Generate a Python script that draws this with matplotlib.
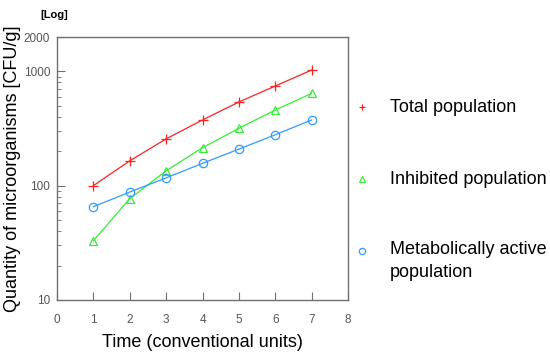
import matplotlib
matplotlib.use("Agg")
import matplotlib.pyplot as plt
from matplotlib.lines import Line2D
from matplotlib.ticker import FixedLocator, NullFormatter, LogLocator

plt.rcParams['font.family'] = ['Liberation Sans', 'DejaVu Sans']

time = [1, 2, 3, 4, 5, 6, 7]
total = [100, 165, 257, 376, 540, 745, 1028]
inhibited = [33, 77, 135, 215, 318, 459, 643]
active = [65.5, 88, 117, 157, 209, 279, 376]

labels = ["Total population", "Inhibited population", "Metabolically active\npopulation"]
colors = ["#ff2020", "#33ee33", "#3399ff"]
markers = ["+", "^", "o"]
series = [total, inhibited, active]

y_ticks = [10, 100, 1000, 2000]
y_ticklabels = ["10", "100", "1000", "2000"]
x_ticks = [0, 1, 2, 3, 4, 5, 6, 7, 8]

fig = plt.figure(figsize=(5.5, 3.55), dpi=100)
ax = fig.add_axes([57/550, 1-300/355, (348-57)/550, (300-37)/355])

for vals, c, m in zip(series, colors, markers):
    ax.plot(time, vals, color=c, lw=0.9, marker=m, ms=6.5 if m == "+" else 6,
            mfc="none", mec=c, mew=0.9)

ax.set_yscale("log")
ax.set_ylim(10, 2000)
ax.set_xlim(0, 8)
ax.yaxis.set_major_locator(FixedLocator(y_ticks))
ax.set_yticklabels(y_ticklabels)
ax.yaxis.set_minor_locator(LogLocator(base=10, subs=range(2, 10)))
ax.yaxis.set_minor_formatter(NullFormatter())
ax.set_xticks(x_ticks)

for s in ax.spines.values():
    s.set_color("#707070")
    s.set_linewidth(1.0)
ax.tick_params(axis="both", which="both", direction="in", colors="#707070",
               labelcolor="#555555", labelsize=8.5, top=False, right=False)
ax.tick_params(axis="both", which="major", length=6)
ax.tick_params(axis="y", which="major", pad=5)
ax.tick_params(axis="x", which="major", pad=10)
ax.tick_params(axis="y", which="minor", length=3)

ax.set_xlabel("Time (conventional units)", fontsize=13, labelpad=6)
ax.set_ylabel("Quantity of microorganisms [CFU/g]", fontsize=13, labelpad=2)
fig.text(40/550, 1-15/355, "[Log]", fontsize=8, fontweight="bold", va="center", ha="left")

leg_y = [107, 179, 251]
for lab, c, m, yy in zip(labels, colors, markers, leg_y):
    fig.add_artist(Line2D([362/550], [1-yy/355], transform=fig.transFigure,
                          marker=m, color=c, mfc="none", mec=c, ms=5 if m == "+" else 4.5,
                          mew=0.9, ls="none"))
    if "\n" in lab:
        fig.text(390/550, 1-(yy-10)/355, lab, fontsize=13, va="top", ha="left",
                 linespacing=1.45)
    else:
        fig.text(390/550, 1-yy/355, lab, fontsize=13, va="center", ha="left")

fig.savefig("out.png", dpi=100)
